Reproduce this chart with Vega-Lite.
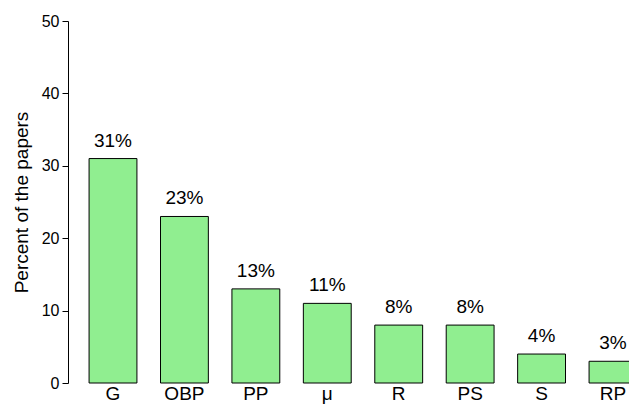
{
  "$schema": "https://vega.github.io/schema/vega-lite/v6.json",
  "autosize": "none",
  "padding": {"left": 68, "top": 21, "right": 0, "bottom": 21},
  "width": 590,
  "height": 362,
  "background": "white",
  "config": {
    "view": {"stroke": null},
    "font": "Liberation Sans"
  },
  "data": {
    "values": [
      {"method": "G", "percent": 31, "label": "31%"},
      {"method": "OBP", "percent": 23, "label": "23%"},
      {"method": "PP", "percent": 13, "label": "13%"},
      {"method": "μ", "percent": 11, "label": "11%"},
      {"method": "R", "percent": 8, "label": "8%"},
      {"method": "PS", "percent": 8, "label": "8%"},
      {"method": "S", "percent": 4, "label": "4%"},
      {"method": "RP", "percent": 3, "label": "3%"}
    ]
  },
  "encoding": {
    "x": {
      "field": "method",
      "type": "nominal",
      "sort": null,
      "scale": {"paddingInner": 0.33, "paddingOuter": 0.295},
      "axis": {
        "title": null,
        "domain": false,
        "ticks": false,
        "labelAngle": 0,
        "labelPadding": 1,
        "labelFontSize": 19,
        "labelColor": "black",
        "labelFont": "Liberation Sans"
      }
    },
    "y": {
      "field": "percent",
      "type": "quantitative",
      "scale": {"domain": [0, 50], "nice": false, "zero": true},
      "axis": {
        "title": "Percent of the papers",
        "titleFontSize": 19,
        "titleFontWeight": "normal",
        "titleColor": "black",
        "titlePadding": 10,
        "titleFont": "Liberation Sans",
        "values": [0, 10, 20, 30, 40, 50],
        "grid": false,
        "domainColor": "black",
        "tickColor": "black",
        "tickSize": 6,
        "labelPadding": 3,
        "labelFontSize": 16,
        "labelColor": "black",
        "labelFont": "Liberation Sans"
      }
    }
  },
  "layer": [
    {
      "mark": {"type": "bar", "fill": "#90EE90", "stroke": "black", "strokeWidth": 1}
    },
    {
      "mark": {"type": "text", "baseline": "alphabetic", "dy": -12, "fontSize": 19, "color": "black", "font": "Liberation Sans"},
      "encoding": {"text": {"field": "label"}}
    }
  ]
}
